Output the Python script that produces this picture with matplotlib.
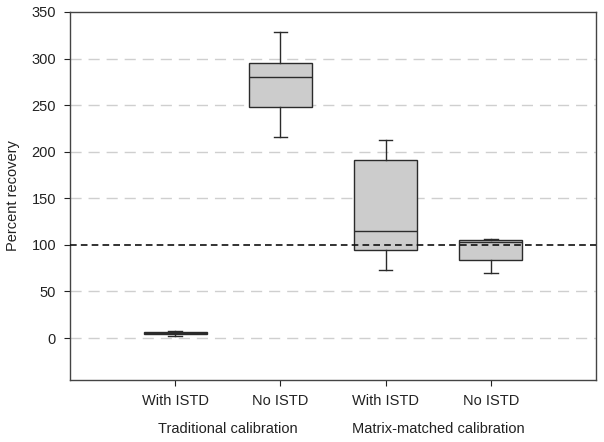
import matplotlib
matplotlib.use('Agg')
import matplotlib.pyplot as plt

plt.rcParams['font.family'] = ['Liberation Sans', 'DejaVu Sans']

# box statistics
tick_labels = ['With ISTD', 'No ISTD', 'With ISTD', 'No ISTD']
group_labels = ['Traditional calibration', 'Matrix-matched calibration']
whislo = [2.5, 216, 73, 70]
q1 = [4, 248, 94, 84]
med = [5.5, 280, 115, 103]
q3 = [7, 295, 191, 105]
whishi = [8, 329, 213, 106]

stats = []
for i in range(len(tick_labels)):
    stats.append({'whislo': whislo[i], 'q1': q1[i], 'med': med[i],
                  'q3': q3[i], 'whishi': whishi[i], 'fliers': []})

fig = plt.figure(figsize=(6.04, 4.42), dpi=100)
ax = fig.add_axes([0.1159, 0.1403, 0.8709, 0.8326])

edge = '#2b2b2b'
ax.bxp(stats, positions=[1, 2, 3, 4], widths=0.6, patch_artist=True,
       showfliers=False, capwidths=0.13,
       boxprops=dict(facecolor='#cccccc', edgecolor=edge, linewidth=1.0),
       medianprops=dict(color=edge, linewidth=1.0),
       whiskerprops=dict(color=edge, linewidth=1.0),
       capprops=dict(color=edge, linewidth=1.0), zorder=3)

# grid lines
for y in [0, 50, 150, 200, 250, 300]:
    ax.axhline(y, color='#cfcfcf', linestyle=(0, (8, 5)), linewidth=1.0, zorder=1)
ax.axhline(100, color='#111111', linestyle=(0, (4, 2.5)), linewidth=1.2, zorder=4)

ax.set_xlim(0, 5)
ax.set_ylim(-45, 350)
ax.set_yticks([0, 50, 100, 150, 200, 250, 300, 350])
ax.set_xticks([1, 2, 3, 4])
ax.set_xticklabels(tick_labels)
ax.tick_params(axis='both', labelsize=10.5, colors='#222222', length=4, width=0.8, pad=6)
ax.set_ylabel('Percent recovery', fontsize=10.5, color='#222222', labelpad=8)

for s in ax.spines.values():
    s.set_color('#444444')
    s.set_linewidth(1.0)

ax.text(1.5, -0.133, group_labels[0], transform=ax.get_xaxis_transform(),
        ha='center', va='center', fontsize=10.5, color='#222222')
ax.text(3.5, -0.133, group_labels[1], transform=ax.get_xaxis_transform(),
        ha='center', va='center', fontsize=10.5, color='#222222')

fig.savefig('out.png', dpi=100)
